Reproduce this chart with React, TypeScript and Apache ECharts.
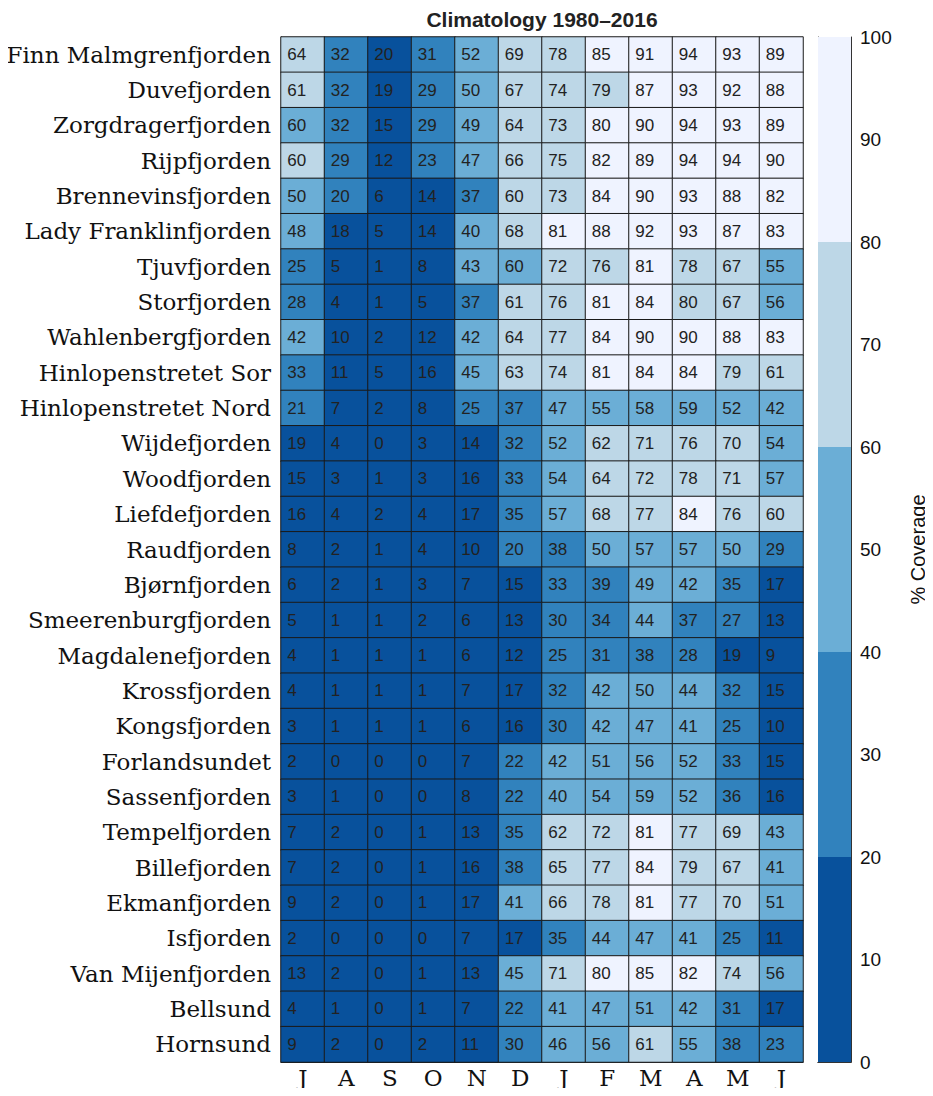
import React, { useEffect, useRef } from "react";
import * as echarts from "echarts";

const title = "Climatology 1980–2016";
const months = ["J", "A", "S", "O", "N", "D", "J", "F", "M", "A", "M", "J"];
const fjords = [
  "Finn Malmgrenfjorden", "Duvefjorden", "Zorgdragerfjorden", "Rijpfjorden",
  "Brennevinsfjorden", "Lady Franklinfjorden", "Tjuvfjorden", "Storfjorden",
  "Wahlenbergfjorden", "Hinlopenstretet Sor", "Hinlopenstretet Nord", "Wijdefjorden",
  "Woodfjorden", "Liefdefjorden", "Raudfjorden", "Bjørnfjorden", "Smeerenburgfjorden",
  "Magdalenefjorden", "Krossfjorden", "Kongsfjorden", "Forlandsundet", "Sassenfjorden",
  "Tempelfjorden", "Billefjorden", "Ekmanfjorden", "Isfjorden", "Van Mijenfjorden",
  "Bellsund", "Hornsund",
];
// % coverage per fjord (rows) and month (Jul..Jun)
const coverage: number[][] = [
  [64, 32, 19.7, 31, 52, 69, 78, 85, 91, 94, 93, 89],
  [61, 32, 19, 29, 50, 67, 74, 79, 87, 93, 92, 88],
  [59.7, 32, 15, 29, 49, 64, 73, 80.2, 90, 94, 93, 89],
  [60.2, 29, 12, 23, 47, 66, 75, 82, 89, 94, 94, 90],
  [50, 20.2, 6, 14, 37, 60.3, 73, 84, 90, 93, 88, 82],
  [48, 18, 5, 14, 40.2, 68, 81, 88, 92, 93, 87, 83],
  [25, 5, 1, 8, 43, 59.8, 72, 76, 81, 78, 67, 55],
  [28, 4, 1, 5, 37, 61, 76, 81, 84, 79.8, 67, 56],
  [42, 10, 2, 12, 42, 64, 77, 84, 90, 90, 88, 83],
  [33, 11, 5, 16, 45, 63, 74, 81, 84, 84, 79, 61],
  [21, 7, 2, 8, 25, 37, 47, 55, 58, 59, 52, 42],
  [19, 4, 0, 3, 14, 32, 52, 62, 71, 76, 70, 54],
  [15, 3, 1, 3, 16, 33, 54, 64, 72, 78, 71, 57],
  [16, 4, 2, 4, 17, 35, 57, 68, 77, 84, 76, 60.2],
  [8, 2, 1, 4, 10, 20.3, 38, 50, 57, 57, 50, 29],
  [6, 2, 1, 3, 7, 15, 33, 39, 49, 42, 35, 17],
  [5, 1, 1, 2, 6, 13, 30, 34, 44, 37, 27, 13],
  [4, 1, 1, 1, 6, 12, 25, 31, 38, 28, 19, 9],
  [4, 1, 1, 1, 7, 17, 32, 42, 50, 44, 32, 15],
  [3, 1, 1, 1, 6, 16, 30, 42, 47, 41, 25, 10],
  [2, 0, 0, 0, 7, 22, 42, 51, 56, 52, 33, 15],
  [3, 1, 0, 0, 8, 22, 40.2, 54, 59, 52, 36, 16],
  [7, 2, 0, 1, 13, 35, 62, 72, 81, 77, 69, 43],
  [7, 2, 0, 1, 16, 38, 65, 77, 84, 79, 67, 41],
  [9, 2, 0, 1, 17, 41, 66, 78, 81, 77, 70, 51],
  [2, 0, 0, 0, 7, 17, 35, 44, 47, 41, 25, 11],
  [13, 2, 0, 1, 13, 45, 71, 80.2, 85, 82, 74, 56],
  [4, 1, 0, 1, 7, 22, 41, 47, 51, 42, 31, 17],
  [9, 2, 0, 2, 11, 30, 46, 56, 61, 55, 38, 23],
];
const bandEdges = [0, 20, 40, 60, 80, 100];
const bandColors = ["#08519c", "#3182bd", "#6baed6", "#bdd7e7", "#eff3ff"];

const SERIF = "'DejaVu Serif', serif";
const SANS = "'Liberation Sans', Arial, sans-serif";

export default function App() {
  const ref = useRef<HTMLDivElement>(null);
  useEffect(() => {
    if (!ref.current) return;
    const chart = echarts.init(ref.current, null, { renderer: "svg" });
    const data: number[][] = [];
    coverage.forEach((row, r) => row.forEach((v, c) => data.push([c, r, v])));
    const pieces = bandColors.map((color, i) =>
      i === bandColors.length - 1
        ? { gte: bandEdges[i], lte: bandEdges[i + 1], color }
        : { gte: bandEdges[i], lt: bandEdges[i + 1], color }
    );
    const cbSeries = bandColors.map((color, i) => ({
      type: "bar",
      xAxisIndex: 1,
      yAxisIndex: 1,
      stack: "cb",
      barWidth: "100%",
      silent: true,
      itemStyle: { color },
      data: [bandEdges[i + 1] - bandEdges[i]],
    }));
    chart.setOption({
      animation: false,
      backgroundColor: "#ffffff",
      graphic: [
        {
          type: "text",
          x: 542,
          y: 19,
          style: {
            text: title,
            fill: "#222",
            font: `bold 21px ${SANS}`,
            align: "center",
            verticalAlign: "middle",
          },
        },
      ],
      grid: [
        { left: 281, top: 37, width: 522, height: 1025 },
        { left: 818, top: 37, width: 33, height: 1025 },
      ],
      xAxis: [
        {
          type: "category",
          gridIndex: 0,
          data: months,
          position: "bottom",
          axisLine: { show: true, lineStyle: { color: "#222", width: 1 } },
          axisTick: { show: false },
          axisLabel: { fontFamily: SERIF, fontSize: 23, color: "#111", margin: 4 },
          splitLine: { show: false },
        },
        {
          type: "category",
          gridIndex: 1,
          data: ["cb"],
          show: false,
        },
        {
          type: "category",
          gridIndex: 1,
          data: ["cb"],
          position: "top",
          axisLine: { show: true, lineStyle: { color: "#333" } },
          axisTick: { show: false },
          axisLabel: { show: false },
        },
        {
          type: "category",
          gridIndex: 1,
          data: ["cb"],
          position: "bottom",
          axisLine: { show: true, lineStyle: { color: "#333" } },
          axisTick: { show: false },
          axisLabel: { show: false },
        },
      ],
      yAxis: [
        {
          type: "category",
          gridIndex: 0,
          data: fjords,
          inverse: true,
          axisLine: { show: true, lineStyle: { color: "#222", width: 1 } },
          axisTick: { show: false },
          axisLabel: { fontFamily: SERIF, fontSize: 23, color: "#111", margin: 10 },
          splitLine: { show: false },
        },
        {
          type: "value",
          gridIndex: 1,
          position: "right",
          min: 0,
          max: 100,
          interval: 10,
          axisLine: { show: true, lineStyle: { color: "#333" } },
          axisTick: { show: true, inside: true, length: 6, lineStyle: { color: "#333" } },
          axisLabel: { fontFamily: SANS, fontSize: 19, color: "#111", margin: 9 },
          splitLine: { show: false },
          name: "% Coverage",
          nameLocation: "middle",
          nameRotate: 90,
          nameGap: 57,
          nameTextStyle: { fontFamily: SANS, fontSize: 20, color: "#111" },
        },
        {
          type: "value",
          gridIndex: 1,
          position: "left",
          min: 0,
          max: 100,
          axisLine: { show: true, lineStyle: { color: "#333" } },
          axisTick: { show: false },
          axisLabel: { show: false },
          splitLine: { show: false },
        },
      ],
      visualMap: {
        type: "piecewise",
        show: false,
        seriesIndex: 0,
        dimension: 2,
        pieces,
      },
      series: [
        {
          type: "heatmap",
          xAxisIndex: 0,
          yAxisIndex: 0,
          data,
          itemStyle: { borderColor: "#1a1a1a", borderWidth: 1 },
          label: {
            show: true,
            position: "insideLeft",
            distance: 7,
            fontFamily: SANS,
            fontSize: 17,
            color: "#222",
            formatter: (p: any) => String(Math.round(p.value[2])),
          },
          emphasis: { disabled: true },
        },
        ...cbSeries,
      ],
    });
    return () => chart.dispose();
  }, []);
  return <div ref={ref} style={{ width: 933, height: 1096, margin: -8 }} />;
}
